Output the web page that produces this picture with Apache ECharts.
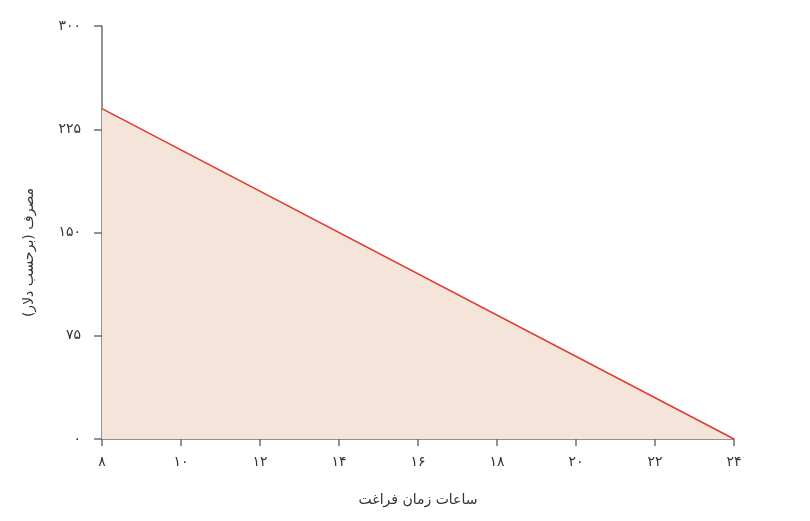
<!DOCTYPE html>
<html>
<head>
<meta charset="utf-8">
<script src="https://cdn.jsdelivr.net/npm/echarts@6/dist/echarts.min.js"></script>
<style>
    html, body { margin: 0; padding: 0; background: #fff; }
    #chart { width: 810px; height: 521px; }
</style>
</head>
<body>
<div id="chart"></div>
<script>
    // leisure hours vs consumption (dollars)
    var hours = [8, 24];
    var consumption = [240, 0];
    var xTicks = [8, 10, 12, 14, 16, 18, 20, 22, 24];
    var yTicks = [0, 75, 150, 225, 300];

    var faDigits = '۰۱۲۳۴۵۶۷۸۹';
    function toFa(v) {
        return String(v).replace(/[0-9]/g, function (d) { return faDigits[+d]; });
    }

    var myChart = echarts.init(document.getElementById('chart'));
    var axisColor = '#6e6e6e';
    var textColor = '#333';
    var option = {
        animation: false,
        textStyle: { fontFamily: 'DejaVu Sans' },
        grid: { left: 102, right: 76, top: 26, bottom: 82 },
        xAxis: {
            type: 'value',
            min: xTicks[0],
            max: xTicks[xTicks.length - 1],
            interval: 2,
            name: 'ساعات زمان فراغت',
            nameLocation: 'middle',
            nameGap: 54,
            nameTextStyle: { fontSize: 14, color: textColor },
            axisLine: { lineStyle: { color: axisColor, width: 1.5 } },
            axisTick: { length: 7, lineStyle: { color: axisColor, width: 1.5 } },
            axisLabel: { margin: 16, fontSize: 14, color: textColor, formatter: toFa },
            splitLine: { show: false }
        },
        yAxis: {
            type: 'value',
            min: yTicks[0],
            max: yTicks[yTicks.length - 1],
            interval: 75,
            name: 'مصرف (برحسب دلار)',
            nameLocation: 'middle',
            nameGap: 66,
            nameRotate: 90,
            nameTextStyle: { fontSize: 14, color: textColor, padding: [0, 40, 0, 0] },
            axisLine: { show: true, lineStyle: { color: axisColor, width: 1.5 } },
            axisTick: { show: true, length: 8, lineStyle: { color: axisColor, width: 1.5 } },
            axisLabel: { margin: 21, fontSize: 14, color: textColor, formatter: toFa },
            splitLine: { show: false }
        },
        series: [{
            type: 'line',
            data: hours.map(function (h, i) { return [h, consumption[i]]; }),
            symbol: 'none',
            lineStyle: { color: '#e0392d', width: 1.5 },
            areaStyle: { color: '#f5e4da', opacity: 1 },
            z: 1
        }]
    };
    myChart.setOption(option);
</script>
</body>
</html>
